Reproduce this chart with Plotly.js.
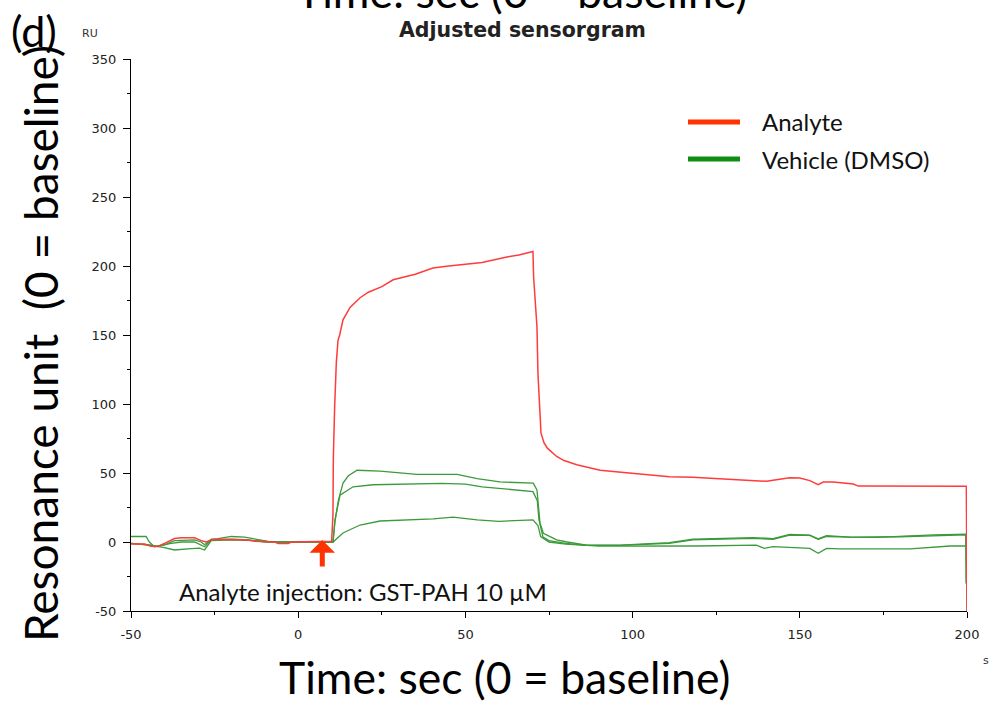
<!DOCTYPE html>
<html>
<head>
<meta charset="utf-8">
<script src="https://cdn.plot.ly/plotly-3.0.1.min.js"></script>
<style>html,body{margin:0;padding:0;background:#fff;}#chart{width:991px;height:704px;}</style>
</head>
<body>
<div id="chart"></div>
<script>
// ---- Data (time in s, response in RU) ----
var analyteTime = [-50,-46,-44,-42,-40,-37,-35,-31,-29,-27.5,-26,-24,-20,-15,-13,-10,-7,-6,-3,-2,0,5,10,
  10.4,10.5,10.9,11.4,11.9,12.4,13.4,15.5,18.5,21,25,28.4,35,40.3,45,50.3,55,62.4,66,70.2,
  70.4,71.4,71.7,72.3,72.6,73.5,74.5,77.3,79.5,83.3,90.3,99,105,111,118,126,131,136,140,144,147,150,153,155.5,157,160,164,166,167.5,175,185,195,199.8,200];
var analyteRU = [-1.5,-1.5,-3,-3.3,-1,2.5,3,3,1,0,1.5,2,1.8,1.5,0.5,0.3,0,-1,-1,0,0,0.5,0.5,
  20,60,98,130,146,150,161,170,177,181,185,190,194,198.5,200,201.5,202.5,206.5,208,210.5,
  192,156,122,93.5,79,72,68,62,59,56,52,50,48.5,47.3,47,46,45.5,45,44,45.5,46.5,46.3,44.5,41.5,43.5,43.5,42.8,42,40.5,40.4,40.4,40.4,40.4,-50];

var vehicle1Time = [-50,-45.5,-44.5,-43,-40,-37,-31,-29,-28,-26,-24,-20,-16,-13,-9,-5,10,
  10.4,11,12,13.4,15,17.6,24.5,35.5,47.5,53.5,60.3,70.3,71.4,72.3,73.3,74.4,77.3,80.4,86.3,96.3,111,118,136,142,147,153,155.5,158,165,173,180,190,199.8,200];
var vehicle1RU = [4,4,0,-3.5,-2,1,1.5,0,-2,2,2.5,4,3.5,2,0.5,0,0,
  0,15,30,42.7,48,52,51.4,49,49,46,43.5,42.7,37.7,14,6.3,5,1.5,0,-2.2,-2.2,-0.5,2,3.2,2.5,5.5,5,2.2,4.6,3.6,3.4,4.2,5.2,5.7,-50];

var vehicle2Time = [-50,-45,-42,-38,-35,-31,-28,-26,-20,-15,-10,10,
  10.4,11,12.5,16.4,22.4,43,50,55,70.2,71.5,72,73.2,75,80,86,96,111,118,136,142,147,153,155.5,158,165,180,190,199.6,199.7];
var vehicle2RU = [-1,-2,-3,-1,0,0,-3.5,1.5,2,1.5,0,0,
  0,16,34,40,41.5,42.5,42,40,36.5,30,16,3.6,1,-1,-2.5,-2.5,-1,1.5,2.6,2,5,4.8,2,4,3.5,3.8,4.6,5.2,-30];

var vehicle3Time = [-50,-45,-40,-37,-33,-29.5,-28,-26,-20,-12,-8,10,
  10.4,13.4,18.5,24.5,40.4,46.3,53.5,60,70.2,71.7,72.5,75,80,90,100,119,137,139.4,142,153,155.5,158,162,183,195,199.8];
var vehicle3RU = [-1,-2,-4,-5.8,-5,-4.5,-5.8,1,1.5,1,0,0,
  0,6.5,12.3,15.2,16.7,18,16,15,16,12,4,0,-1.5,-3,-3,-2.9,-2.2,-4.6,-3.4,-4.6,-8.2,-4.6,-5,-5,-2.9,-2.9];

var xTicks = [-50,0,50,100,150,200];
var yTicks = [-50,0,50,100,150,200,250,300,350];
var legendNames = ['Analyte','Vehicle (DMSO)'];

var RED = '#ff3b3b', GREEN = '#3c9a3c';
var traces = [
  {x: vehicle1Time, y: vehicle1RU, mode:'lines', line:{color:GREEN, width:1.3}, name:legendNames[1], showlegend:false},
  {x: vehicle2Time, y: vehicle2RU, mode:'lines', line:{color:GREEN, width:1.3}, name:legendNames[1], showlegend:false},
  {x: vehicle3Time, y: vehicle3RU, mode:'lines', line:{color:GREEN, width:1.3}, name:legendNames[1], showlegend:false},
  {x: analyteTime, y: analyteRU, mode:'lines', line:{color:RED, width:1.5}, name:legendNames[0], showlegend:false}
];

var W = 991, H = 704, L = 131, R = 24, T = 59, B = 93;
var pw = W - L - R, ph = H - T - B;
function px(p){ return (p - L) / pw; }
function py(p){ return 1 - (p - T) / ph; }

var FAM = 'Lato, "Open Sans", sans-serif';
var big = {family:FAM, size:44.5, color:'#000'};
var mid = {family:FAM, size:24, color:'#111'};

var layout = {
  width: W, height: H, autosize:false,
  margin:{l:L, r:R, t:T, b:B, pad:0},
  paper_bgcolor:'#fff', plot_bgcolor:'#fff',
  showlegend:false,
  xaxis:{range:[-50,200], tickvals:xTicks, ticktext:xTicks.map(String), showgrid:false, zeroline:false,
    showline:true, linecolor:'#000', linewidth:1, ticks:'outside', ticklen:6, tickcolor:'#000',
    minor:{dtick:25, tick0:0, ticks:'outside', ticklen:3, tickcolor:'#000'},
    tickfont:{family:'"DejaVu Sans", sans-serif', size:13, color:'#222'}, ticklabelstandoff:5},
  yaxis:{range:[-50,350], tickvals:yTicks, ticktext:yTicks.map(String), showgrid:false, zeroline:false,
    showline:true, linecolor:'#000', linewidth:1, ticks:'outside', ticklen:7, tickcolor:'#000',
    minor:{dtick:25, tick0:0, ticks:'outside', ticklen:3, tickcolor:'#000'},
    tickfont:{family:'"DejaVu Sans", sans-serif', size:13, color:'#222'}, ticklabelstandoff:4},
  shapes:[
    {type:'line', xref:'paper', yref:'paper', x0:px(688), x1:px(740), y0:py(122), y1:py(122), line:{color:'#ff3300', width:5}},
    {type:'line', xref:'paper', yref:'paper', x0:px(688), x1:px(740), y0:py(159), y1:py(159), line:{color:'#128c12', width:5}}
  ],
  annotations:[
    {xref:'paper', yref:'paper', x:px(760), y:py(122), xanchor:'left', yanchor:'middle', text:legendNames[0], showarrow:false, font:mid},
    {xref:'paper', yref:'paper', x:px(760), y:py(159), xanchor:'left', yanchor:'middle', text:legendNames[1], showarrow:false, font:mid},
    {xref:'paper', yref:'paper', x:px(521), y:py(-9), xanchor:'center', yanchor:'middle', text:'Time: sec (0 = baseline)', showarrow:false, font:big},
    {xref:'paper', yref:'paper', x:px(504), y:py(676), xanchor:'center', yanchor:'middle', text:'Time: sec (0 = baseline)', showarrow:false, font:big},
    {xref:'paper', yref:'paper', x:px(40), y:py(344), xanchor:'center', yanchor:'middle', textangle:-90, text:'Resonance unit  (0 = baseline)', showarrow:false, font:{family:FAM, size:46, color:'#000'}},
    {xref:'paper', yref:'paper', x:px(9), y:py(30), xanchor:'left', yanchor:'middle', text:'(d)', showarrow:false, font:{family:FAM, size:43, color:'#000'}},
    {xref:'paper', yref:'paper', x:px(522), y:py(30), xanchor:'center', yanchor:'middle', text:'<b>Adjusted sensorgram</b>', showarrow:false, font:{family:'"DejaVu Sans", sans-serif', size:20.5, color:'#222'}},
    {xref:'paper', yref:'paper', x:px(80), y:py(33), xanchor:'left', yanchor:'middle', text:'RU', showarrow:false, font:{family:'"DejaVu Sans", sans-serif', size:11, color:'#333'}},
    {xref:'paper', yref:'paper', x:px(981), y:py(660), xanchor:'left', yanchor:'middle', text:'s', showarrow:false, font:{family:'"DejaVu Sans", sans-serif', size:11, color:'#333'}},
    {xref:'paper', yref:'paper', x:px(177), y:py(591), xanchor:'left', yanchor:'middle', text:'Analyte injection: GST-PAH 10 µM', showarrow:false, font:mid},
    {xref:'x', yref:'y', x:7.2, y:1.5, text:'', showarrow:true, ax:0, ay:28, arrowcolor:'#ff3300', arrowwidth:5, arrowhead:1, arrowsize:0.85, standoff:0}
  ]
};

Plotly.newPlot('chart', traces, layout, {displayModeBar:false, staticPlot:true});
</script>
</body>
</html>
